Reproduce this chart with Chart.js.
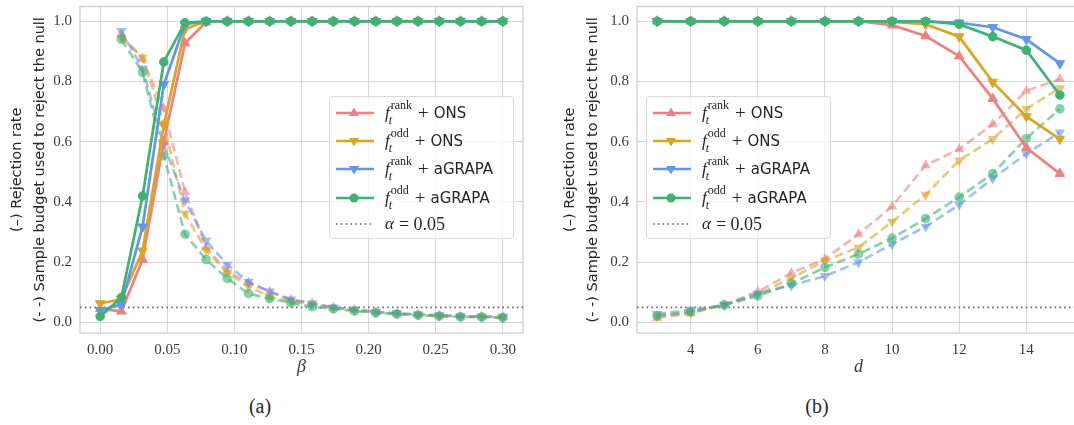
<!DOCTYPE html>
<html>
<head>
<meta charset="utf-8">
<script src="https://cdn.jsdelivr.net/npm/chart.js@4/dist/chart.umd.min.js"></script>
<style>
html,body{margin:0;padding:0;background:#fff;overflow:hidden;width:1074px;height:425px;}
#wrap{position:relative;width:1074px;height:425px;overflow:hidden;}
canvas{position:absolute;top:0;}
.legend{position:absolute;top:96px;width:185px;height:143px;border:1px solid #d9d9d9;border-radius:4px;background:rgba(255,255,255,0.8);box-sizing:border-box;}
.row{position:absolute;left:0;height:26px;width:100%;}
.row svg{position:absolute;left:5px;top:0;}
.lt{position:absolute;left:55px;top:0;height:26px;display:flex;align-items:center;color:#262626;white-space:nowrap;}
.f{font:italic 17px 'Liberation Serif',serif;}
.ss{display:inline-flex;flex-direction:column;line-height:11px;margin-left:1px;}
.sup{font:12px 'Liberation Serif',serif;}
.sub{font:italic 12px 'Liberation Serif',serif;margin-left:-2px;}
.op{font:19px 'Liberation Serif',serif;margin-left:6px;}
.sans{font:15px 'DejaVu Sans',sans-serif;margin-left:5px;}
.cap{position:absolute;top:395px;font:20px 'Liberation Serif',serif;color:#262626;width:60px;text-align:center;}
</style>
</head>
<body>
<div id="wrap">
<canvas id="cA" width="537" height="380" style="left:0px"></canvas>
<canvas id="cB" width="560" height="380" style="left:537px"></canvas>
<div class="legend" id="legA" style="left:329px"></div>
<div class="legend" id="legB" style="left:646px"></div>
<div class="cap" style="left:230px">(a)</div>
<div class="cap" style="left:787px">(b)</div>
</div>
<script>
// ---------- data ----------
const betaValues = [0, 0.0158, 0.0316, 0.0474, 0.0632, 0.0789, 0.0947, 0.1105, 0.1263, 0.1421,
                    0.1579, 0.1737, 0.1895, 0.2053, 0.2211, 0.2368, 0.2526, 0.2684, 0.2842, 0.3];
const dValues = [3, 4, 5, 6, 7, 8, 9, 10, 11, 12, 13, 14, 15];

const seriesNames = ['rank + ONS', 'odd + ONS', 'rank + aGRAPA', 'odd + aGRAPA'];

// (a) rejection rate (solid)
const betaRejRankONS   = [0.045, 0.037, 0.209, 0.600, 0.927, 0.997, 1, 1, 1, 1, 1, 1, 1, 1, 1, 1, 1, 1, 1, 1];
const betaRejOddONS    = [0.063, 0.078, 0.238, 0.655, 0.974, 1, 1, 1, 1, 1, 1, 1, 1, 1, 1, 1, 1, 1, 1, 1];
const betaRejRankGRAPA = [0.040, 0.060, 0.318, 0.790, 0.990, 1, 1, 1, 1, 1, 1, 1, 1, 1, 1, 1, 1, 1, 1, 1];
const betaRejOddGRAPA  = [0.020, 0.083, 0.420, 0.865, 0.995, 1, 1, 1, 1, 1, 1, 1, 1, 1, 1, 1, 1, 1, 1, 1];
// (a) sample budget (dashed)
const betaBudRankONS   = [null, 0.955, 0.875, 0.710, 0.433, 0.250, 0.170, 0.132, 0.102, 0.075, 0.063, 0.050, 0.042, 0.035, 0.030, 0.026, 0.023, 0.020, 0.020, 0.018];
const betaBudOddONS    = [null, 0.946, 0.880, 0.660, 0.362, 0.240, 0.165, 0.120, 0.085, 0.070, 0.060, 0.048, 0.040, 0.033, 0.029, 0.025, 0.022, 0.019, 0.018, 0.016];
const betaBudRankGRAPA = [null, 0.968, 0.843, 0.590, 0.405, 0.271, 0.192, 0.135, 0.103, 0.076, 0.064, 0.050, 0.043, 0.035, 0.031, 0.027, 0.024, 0.021, 0.020, 0.019];
const betaBudOddGRAPA  = [null, 0.940, 0.830, 0.555, 0.293, 0.209, 0.146, 0.096, 0.079, 0.065, 0.052, 0.045, 0.038, 0.032, 0.028, 0.024, 0.021, 0.019, 0.018, 0.016];

// (b) rejection rate (solid)
const dRejRankONS   = [1, 1, 1, 1, 1, 1, 1, 0.987, 0.951, 0.884, 0.743, 0.580, 0.494];
const dRejOddONS    = [1, 1, 1, 1, 1, 1, 1, 0.998, 0.990, 0.949, 0.798, 0.684, 0.609];
const dRejRankGRAPA = [1, 1, 1, 1, 1, 1, 1, 1, 1, 0.995, 0.980, 0.940, 0.860];
const dRejOddGRAPA  = [1, 1, 1, 1, 1, 1, 1, 1, 1, 0.990, 0.949, 0.904, 0.755];
// (b) sample budget (dashed)
const dBudRankONS   = [0.015, 0.030, 0.060, 0.102, 0.164, 0.211, 0.293, 0.385, 0.522, 0.575, 0.658, 0.769, 0.808];
const dBudOddONS    = [0.020, 0.033, 0.058, 0.094, 0.147, 0.205, 0.249, 0.334, 0.424, 0.538, 0.609, 0.709, 0.778];
const dBudRankGRAPA = [0.028, 0.042, 0.058, 0.096, 0.123, 0.154, 0.200, 0.260, 0.318, 0.391, 0.478, 0.560, 0.631];
const dBudOddGRAPA  = [0.022, 0.035, 0.058, 0.088, 0.129, 0.183, 0.227, 0.280, 0.345, 0.416, 0.494, 0.611, 0.709];

const alphaLevel = 0.05;
const betaTicks = [0, 0.05, 0.10, 0.15, 0.20, 0.25, 0.30];
const dTicks = [4, 6, 8, 10, 12, 14];
const yTicks = [0, 0.2, 0.4, 0.6, 0.8, 1.0];

// ---------- styles ----------
const colors = ['#F08080', '#DAA520', '#6495ED', '#3CB371'];
const dashedColors = ['rgba(240,128,128,0.6)', 'rgba(218,165,32,0.6)', 'rgba(100,149,237,0.6)', 'rgba(60,179,113,0.6)'];
const markers = [
  {style: 'triangle', rotation: 0, r: 5.5},
  {style: 'triangle', rotation: 180, r: 5.5},
  {style: 'triangle', rotation: 180, r: 5.5},
  {style: 'circle', rotation: 0, r: 4.3}
];
const legendLabels = [
  {sup: 'rank', method: 'ONS'},
  {sup: 'odd', method: 'ONS'},
  {sup: 'rank', method: 'aGRAPA'},
  {sup: 'odd', method: 'aGRAPA'}
];

function pts(xs, ys) { return xs.map((x, i) => ({x: x, y: ys[i]})); }

function buildDatasets(xs, rej, bud, xMin, xMax) {
  const ds = [];
  for (let i = 0; i < 4; i++) {
    ds.push({
      label: seriesNames[i] + ' (rejection)',
      data: pts(xs, rej[i]),
      borderColor: colors[i], backgroundColor: colors[i],
      pointBorderColor: colors[i], pointBackgroundColor: colors[i],
      borderWidth: 2.7, pointStyle: markers[i].style, rotation: markers[i].rotation,
      pointRadius: markers[i].r, pointBorderWidth: 1, order: 3 - i
    });
  }
  for (let i = 0; i < 4; i++) {
    ds.push({
      label: seriesNames[i] + ' (budget)',
      data: pts(xs, bud[i]),
      borderColor: dashedColors[i], backgroundColor: dashedColors[i],
      pointBorderColor: 'rgba(0,0,0,0)', pointBackgroundColor: dashedColors[i],
      borderWidth: 2.6, borderDash: [9, 4.5], pointStyle: markers[i].style, rotation: markers[i].rotation,
      pointRadius: markers[i].r + 0.5, pointBorderWidth: 0, order: 8 - i, spanGaps: false
    });
  }
  ds.push({
    label: 'alpha',
    data: [{x: xMin, y: alphaLevel}, {x: xMax, y: alphaLevel}],
    borderColor: '#6a6a6a', borderWidth: 1.6, borderDash: [1.6, 3.2],
    pointRadius: 0, order: 10
  });
  return ds;
}

const framePlugin = {
  id: 'frame',
  beforeDatasetsDraw(chart) {
    const a = chart.chartArea, ctx = chart.ctx;
    ctx.save();
    ctx.strokeStyle = '#cfcfcf';
    ctx.lineWidth = 1.3;
    ctx.strokeRect(a.left, a.top, a.right - a.left, a.bottom - a.top);
    ctx.restore();
  }
};

function makeChart(id, xs, rej, bud, xMin, xMax, xTicks, xFmt, xTitle, padLeft, padRight, yWidth) {
  return new Chart(document.getElementById(id), {
    type: 'line',
    data: {datasets: buildDatasets(xs, rej, bud, xMin, xMax)},
    options: {
      responsive: false, animation: false, devicePixelRatio: 1,
      layout: {padding: {left: padLeft, right: padRight, top: 2, bottom: 0}},
      plugins: {legend: {display: false}, tooltip: {enabled: false}},
      elements: {line: {tension: 0}},
      scales: {
        x: {
          type: 'linear', min: xMin, max: xMax,
          afterBuildTicks: s => { s.ticks = xTicks.map(v => ({value: v})); },
          afterFit: s => { s.height = 47; s.paddingLeft = 0; s.paddingRight = 0; },
          grid: {color: '#d6d6d6', lineWidth: 1, drawTicks: false},
          border: {display: false},
          ticks: {padding: 8, color: '#3a3a3a', font: {family: 'Liberation Serif', size: 15}, callback: v => xFmt(v), maxRotation: 0, autoSkip: false},
          title: {display: true, text: xTitle, color: '#3a3a3a', font: {family: 'Liberation Serif', style: 'italic', size: 18, lineHeight: 1.2}, padding: {top: 0, bottom: 2}}
        },
        y: {
          type: 'linear', min: -0.035, max: 1.049,
          afterBuildTicks: s => { s.ticks = yTicks.map(v => ({value: v})); },
          afterFit: s => { s.width = yWidth; s.paddingTop = 0; s.paddingBottom = 0; },
          grid: {color: '#d6d6d6', lineWidth: 1, drawTicks: false},
          border: {display: false},
          ticks: {padding: 8, color: '#3a3a3a', font: {family: 'Liberation Serif', size: 15}, callback: v => v.toFixed(1), autoSkip: false},
          title: {display: true, text: ['(\u2013) Rejection rate', '(- -) Sample budget used to reject the null'], color: '#262626', font: {family: 'DejaVu Sans', size: 14.5, lineHeight: 1.6}, padding: {top: 5.5, bottom: 0}}
        }
      }
    },
    plugins: [framePlugin]
  });
}

makeChart('cA', betaValues,
  [betaRejRankONS, betaRejOddONS, betaRejRankGRAPA, betaRejOddGRAPA],
  [betaBudRankONS, betaBudOddONS, betaBudRankGRAPA, betaBudOddGRAPA],
  -0.015, 0.315, betaTicks, v => v.toFixed(2), '\u03B2', 0, 14, 80);

makeChart('cB', dValues,
  [dRejRankONS, dRejOddONS, dRejRankGRAPA, dRejOddGRAPA],
  [dBudRankONS, dBudOddONS, dBudRankGRAPA, dBudOddGRAPA],
  2.4, 15.6, dTicks, v => String(Math.round(v)), 'd', 16, 17, 84);

// ---------- legends ----------
function markerSvg(i) {
  const c = colors[i], m = markers[i];
  let mk;
  if (m.style === 'circle') {
    mk = `<circle cx="19" cy="13" r="4.5" fill="${c}"/>`;
  } else if (m.rotation === 0) {
    mk = `<polygon points="19,7.5 24,16 14,16" fill="${c}"/>`;
  } else {
    mk = `<polygon points="19,18.5 24,10 14,10" fill="${c}"/>`;
  }
  return `<svg width="40" height="26"><line x1="1" y1="13" x2="39" y2="13" stroke="${c}" stroke-width="2.6"/>${mk}</svg>`;
}
function buildLegend(el) {
  let html = '';
  const centers = [16, 44, 72, 100.5, 127];
  for (let i = 0; i < 4; i++) {
    const L = legendLabels[i];
    html += `<div class="row" style="top:${centers[i] - 13}px">${markerSvg(i)}<div class="lt"><span class="f">f</span><span class="ss"><span class="sup">${L.sup}</span><span class="sub">t</span></span><span class="op">+</span><span class="sans">${L.method}</span></div></div>`;
  }
  html += `<div class="row" style="top:${centers[4] - 13}px"><svg width="40" height="26"><line x1="1" y1="13" x2="39" y2="13" stroke="#6a6a6a" stroke-width="1.6" stroke-dasharray="1.6 3.2"/></svg><div class="lt"><span class="f">\u03B1</span><span class="op" style="margin-left:5px;font-size:18px">= 0.05</span></div></div>`;
  el.innerHTML = html;
}
buildLegend(document.getElementById('legA'));
buildLegend(document.getElementById('legB'));
</script>
</body>
</html>
